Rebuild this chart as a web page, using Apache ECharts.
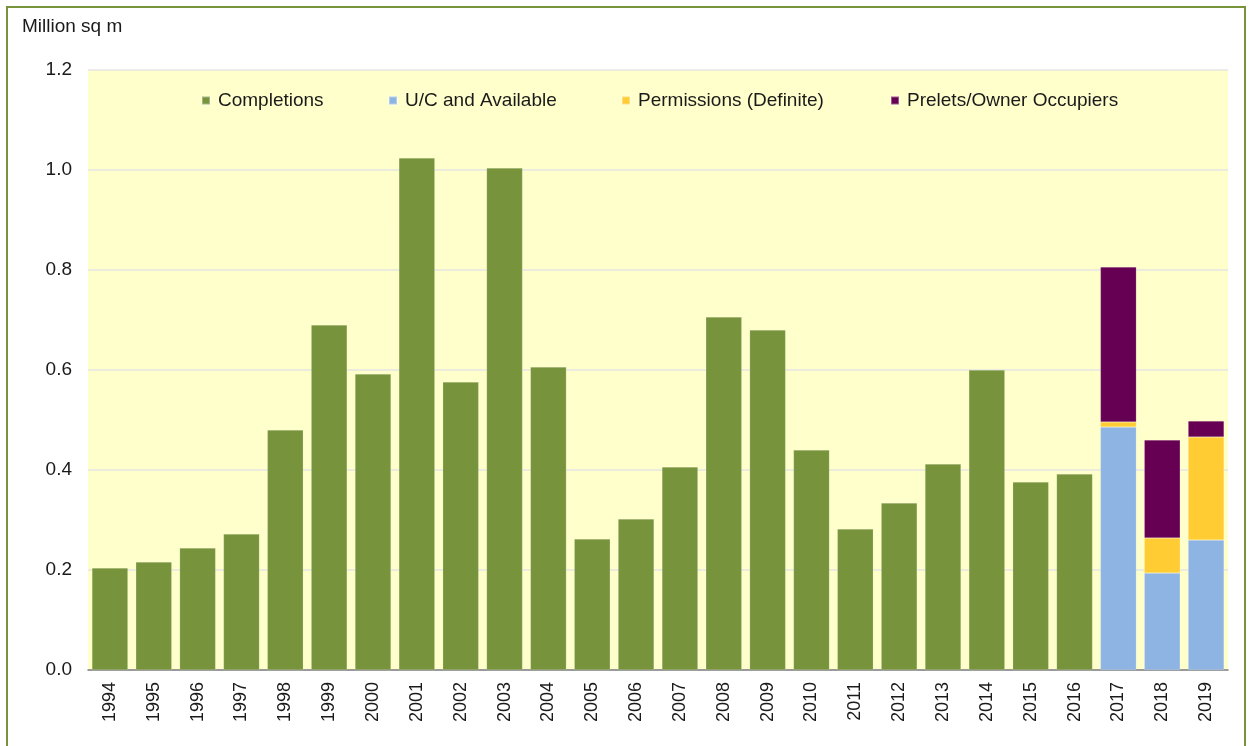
<!DOCTYPE html>
<html><head><meta charset="utf-8">
<script src="https://cdn.jsdelivr.net/npm/echarts@6/dist/echarts.min.js"></script>
<style>
html,body{margin:0;padding:0;background:#fff;}
#frame{position:absolute;left:6px;top:6px;width:1240px;height:750px;border:2px solid #77933C;box-sizing:border-box;}
#c{position:absolute;left:0;top:0;width:1252px;height:746px;}
</style></head>
<body><div id="frame"></div><div id="c"></div>
<script>
const years = ['1994','1995','1996','1997','1998','1999','2000','2001','2002','2003','2004','2005','2006','2007','2008','2009','2010','2011','2012','2013','2014','2015','2016','2017','2018','2019'];
const completions = [0.204,0.216,0.244,0.272,0.480,0.690,0.592,1.024,0.576,1.004,0.606,0.262,0.302,0.406,0.706,0.680,0.440,0.282,0.334,0.412,0.600,0.376,0.392,null,null,null];
const ucAvailable = [null,null,null,null,null,null,null,null,null,null,null,null,null,null,null,null,null,null,null,null,null,null,null,0.486,0.194,0.260];
const permissions = [null,null,null,null,null,null,null,null,null,null,null,null,null,null,null,null,null,null,null,null,null,null,null,0.010,0.070,0.206];
const prelets = [null,null,null,null,null,null,null,null,null,null,null,null,null,null,null,null,null,null,null,null,null,null,null,0.310,0.196,0.032];
const seriesNames = ['Completions','U/C and Available','Permissions (Definite)','Prelets/Owner Occupiers'];
const yTicks = ['0.0','0.2','0.4','0.6','0.8','1.0','1.2'];

const chart = echarts.init(document.getElementById('c'));
const font = 'Liberation Sans, Arial, sans-serif';
const mk = (name, data, color) => ({
  name, type:'bar', stack:'total', data, barCategoryGap:'18%',
  itemStyle:{color, borderColor:'rgba(255,255,255,0.35)', borderWidth:0.5},
  emphasis:{disabled:true}
});
const legendLefts = [196, 383, 616, 885];
const legends = seriesNames.map((n, i) => ({
  top: 86, left: legendLefts[i], itemWidth: 8, itemHeight: 8, icon: 'rect',
  textStyle: {fontSize: 19, color: '#1a1a1a', fontFamily: font, padding: [0,0,0,3]},
  data: [n]
}));
chart.setOption({
  animation:false,
  textStyle:{fontFamily:font},
  title:{text:'Million sq m', left:17, top:12, textStyle:{fontSize:19, fontWeight:'normal', color:'#1a1a1a', fontFamily:font}},
  legend: legends,
  grid:{left:88, right:24, top:70, bottom:76, backgroundColor:'#FFFFCC', show:true, borderWidth:0},
  xAxis:{type:'category', data:years,
    axisLine:{lineStyle:{color:'#808080', width:1.5}}, axisTick:{show:false},
    axisLabel:{rotate:90, fontSize:18, color:'#1a1a1a', margin:12, fontFamily:font}},
  yAxis:{type:'value', min:0, max:1.2, interval:0.2,
    axisLine:{show:false}, axisTick:{show:false},
    splitLine:{lineStyle:{color:'#e4e4e4', width:1.5}},
    axisLabel:{fontSize:19, color:'#1a1a1a', margin:16, fontFamily:font,
      formatter:(v)=>yTicks[Math.round(v/0.2)]}},
  series:[
    mk(seriesNames[0], completions, '#77933C'),
    mk(seriesNames[1], ucAvailable, '#8EB4E3'),
    mk(seriesNames[2], permissions, '#FFCC33'),
    mk(seriesNames[3], prelets, '#660052')
  ]
});
</script></body></html>
